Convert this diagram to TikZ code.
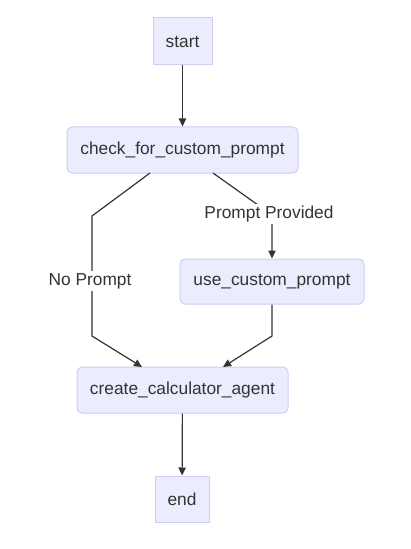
\documentclass[tikz,border=0pt]{standalone}
\usepackage{fontspec}
\setmainfont{Liberation Sans}
\usetikzlibrary{arrows.meta,calc}
\definecolor{nodefill}{HTML}{ECECFF}
\definecolor{nodeline}{HTML}{D0CCF6}
\definecolor{ink}{HTML}{333333}
\tikzset{
  box/.style={draw=nodeline, fill=nodefill, line width=0.75pt, text=ink,
    inner sep=0pt, font=\fontsize{13}{15}\selectfont},
  rbox/.style={box, rounded corners=3.75pt},
  edge/.style={draw=ink, line width=0.9pt, -{Triangle[length=6pt,width=5.5pt]}},
  lbl/.style={fill=white, text=ink, inner sep=1.5pt, font=\fontsize{13}{15}\selectfont}
}
\begin{document}
\begin{tikzpicture}[x=0.75pt,y=-0.75pt]
\useasboundingbox (0,0) rectangle (410,549);
\node[box, minimum width=44.25pt, minimum height=35.25pt] (start) at (182.5,41.5) {start};
\node[rbox, minimum width=173.25pt, minimum height=34.5pt] (check) at (182.5,150) {check\_for\_custom\_prompt};
\node[rbox, minimum width=138pt, minimum height=33.75pt] (use) at (272,281.5) {use\_custom\_prompt};
\node[rbox, minimum width=158.25pt, minimum height=34.5pt] (create) at (182.5,390) {create\_calculator\_agent};
\node[box, minimum width=40.5pt, minimum height=34.5pt] (end) at (182,499) {end};

\coordinate (nA) at (150,173);
\coordinate (nB) at (92,216);
\coordinate (nC) at (92,336);
\coordinate (nD) at (142,367);
\coordinate (pA) at (213,173);
\coordinate (pB) at (272,215);
\coordinate (uA) at (272,336);
\coordinate (uB) at (223,367);

\draw[edge] (start) -- (check);
\draw[edge] (nA) -- (nB) -- (nC) -- (nD);
\node[lbl] (lno) at (90,281) {No Prompt};
\draw[edge] (pA) -- (pB) -- (use);
\node[lbl] (lpp) at (269,214) {Prompt Provided};
\draw[edge] (use) -- (uA) -- (uB);
\draw[edge] (create) -- (end);
\end{tikzpicture}
\end{document}
